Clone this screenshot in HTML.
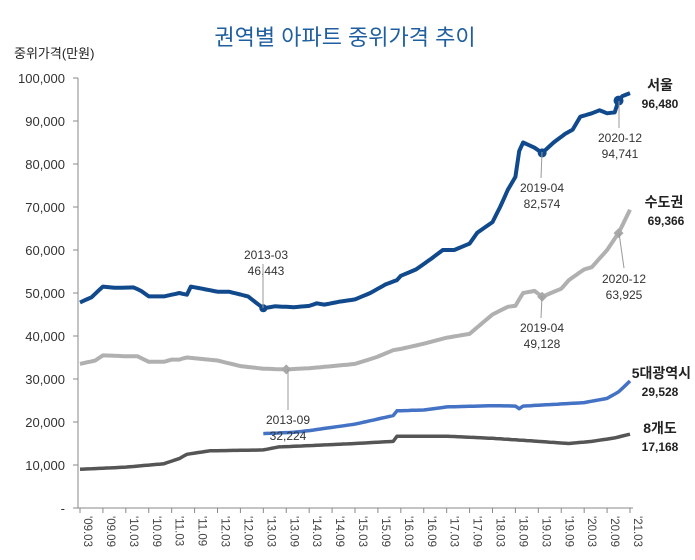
<!DOCTYPE html>
<html><head><meta charset="utf-8"><style>
body{margin:0;background:#fff;}
svg text{font-family:"Liberation Sans","Noto Sans CJK KR",sans-serif;}
</style></head><body>
<svg id="s" width="695" height="555" xmlns="http://www.w3.org/2000/svg">
<text x="345" y="45" font-size="22" fill="#1f5f9f" text-anchor="middle">권역별 아파트 중위가격 추이</text>
<text x="14" y="58" font-size="13" fill="#222">중위가격(만원)</text>
<g id="ax" stroke="#888" stroke-width="1"></g>
<g id="yl" font-size="13" fill="#333" text-anchor="end"></g>
<g id="xl" font-size="11.5" fill="#444"></g>
<g id="ser"></g>
<g font-size="12" fill="#333" text-anchor="middle">
<text x="266" y="259">2013-03</text><text x="266" y="275">46,443</text>
<text x="288" y="424">2013-09</text><text x="288" y="440">32,224</text>
<text x="542" y="192">2019-04</text><text x="542" y="208">82,574</text>
<text x="542" y="332">2019-04</text><text x="542" y="348">49,128</text>
<text x="620" y="142">2020-12</text><text x="620" y="158">94,741</text>
<text x="624" y="283">2020-12</text><text x="624" y="299">63,925</text>
</g>
<g stroke="#999" stroke-width="1">
<line x1="263" y1="308" x2="263" y2="264"/><line x1="288" y1="369" x2="288" y2="410"/>
<line x1="542" y1="152" x2="541" y2="178"/><line x1="542" y1="296" x2="541" y2="318"/>
<line x1="619" y1="101" x2="619" y2="128"/><line x1="619" y1="233" x2="624" y2="268"/>
</g>
<g font-weight="bold" fill="#222" text-anchor="middle">
<text x="660" y="90" font-size="14">서울</text><text x="660" y="108" font-size="12">96,480</text>
<text x="664" y="207" font-size="14">수도권</text><text x="666" y="225" font-size="12">69,366</text>
<text x="691" y="378" font-size="14" text-anchor="end">5대광역시</text><text x="660" y="396" font-size="12">29,528</text>
<text x="660" y="433" font-size="14">8개도</text><text x="660" y="451" font-size="12">17,168</text>
</g>
</svg>
<script>
const NS="http://www.w3.org/2000/svg";
const X=m=>80+m*550/144, Y=v=>508-v*0.0043;
function el(p,t,a,txt){const e=document.createElementNS(NS,t);for(const k in a)e.setAttribute(k,a[k]);if(txt!=null)e.textContent=txt;document.getElementById(p).appendChild(e);return e;}
el("ax","line",{x1:78,y1:Y(100000),x2:78,y2:508});
el("ax","line",{x1:78,y1:508,x2:633,y2:508});
for(let i=0;i<=10;i++){const y=Y(i*10000);el("ax","line",{x1:73,y1:y,x2:78,y2:y});
el("yl","text",{x:65,y:y+5},i==0?"-":(i*10000).toLocaleString("en-US"));}
for(let i=0;i<=24;i++){const x=X(i*6);el("ax","line",{x1:x,y1:508,x2:x,y2:513});
const yr=9+Math.floor(i/2),lab="'"+String(yr).padStart(2,"0")+(i%2?".09":".03");
el("xl","text",{x:0,y:0,transform:`translate(${x+4},516) rotate(90)`},lab);}
function interp(pts){const o=[];for(let i=0;i<pts.length-1;i++){const[a,va]=pts[i],[b,vb]=pts[i+1];for(let m=a;m<b;m++){o.push([m,va+(vb-va)*(m-a)/(b-a)]);}}o.push(pts[pts.length-1]);return o;}
function line(pts,c,w){const p=interp(pts).map(([m,v])=>X(m).toFixed(1)+","+Y(v).toFixed(1)).join(" ");el("ser","polyline",{points:p,fill:"none",stroke:c,"stroke-width":w,"stroke-linejoin":"round"});}
line([[0,9000],[12,9500],[22,10300],[26,11500],[28,12500],[34,13300],[48,13500],[52,14200],[60,14500],[72,15000],[82,15500],[83,16700],[96,16700],[108,16200],[120,15500],[128,15000],[134,15500],[140,16300],[144,17168]],"#555",3.5);
line([[48,17300],[56,17600],[60,18000],[72,19500],[82,21500],[83,22600],[90,22800],[96,23500],[108,23800],[114,23700],[115,23100],[116,23700],[132,24500],[138,25500],[141,27000],[144,29528]],"#4472c4",3.5);
line([[0,33500],[4,34300],[6,35500],[12,35300],[15,35300],[18,34000],[22,34000],[24,34500],[26,34500],[27,34800],[28,35000],[36,34300],[42,33000],[48,32400],[54,32224],[60,32500],[66,33000],[72,33500],[78,35200],[82,36700],[84,37000],[90,38200],[96,39600],[102,40500],[108,45000],[112,46800],[114,47000],[116,50000],[119,50500],[121,49128],[126,51000],[128,53000],[132,55500],[134,56000],[138,60000],[141,63925],[144,69366]],"#b0b0b0",4);
line([[0,47800],[3,49000],[6,51500],[9,51200],[14,51300],[16,50500],[18,49200],[22,49200],[26,50000],[28,49600],[29,51500],[32,51000],[36,50300],[39,50300],[44,49200],[48,46443],[51,46900],[56,46700],[60,47000],[62,47600],[64,47300],[68,48000],[72,48500],[76,50000],[80,52000],[83,53000],[84,54000],[88,55500],[92,58000],[95,60000],[98,60000],[102,61500],[104,64000],[108,66500],[110,70000],[112,74000],[113,75500],[114,77000],[115,83000],[116,85000],[119,83800],[121,82574],[124,85000],[127,87000],[129,88000],[131,91000],[134,91800],[136,92500],[138,91800],[140,92000],[141,94741],[142,95800],[144,96480]],"#114a8c",4);
el("ser","circle",{cx:X(48),cy:Y(46443),r:4,fill:"#114a8c"});
el("ser","circle",{cx:X(121),cy:Y(82574),r:4.5,fill:"#114a8c"});
el("ser","circle",{cx:X(141),cy:Y(94741),r:5,fill:"#114a8c"});
function dia(m,v){const x=X(m),y=Y(v);el("ser","polygon",{points:`${x},${y-5} ${x+5},${y} ${x},${y+5} ${x-5},${y}`,fill:"#a8a8a8"});}
dia(54,32224);dia(121,49128);dia(141,63925);
</script>
</body></html>
